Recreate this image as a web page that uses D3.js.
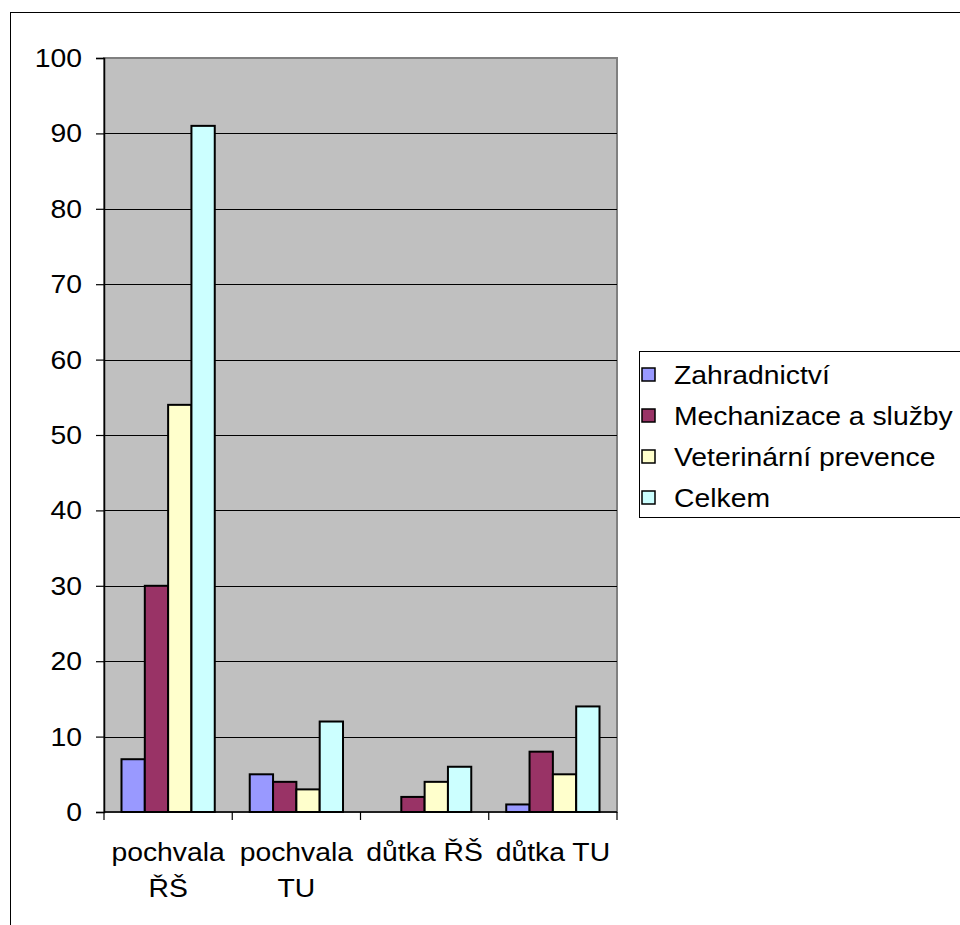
<!DOCTYPE html>
<html>
<head>
<meta charset="utf-8">
<script src="https://cdn.jsdelivr.net/npm/d3@7"></script>
<style>
	body { margin: 0; background: #fff; }
	svg { display: block; font-family: "Liberation Sans", Arial, sans-serif; }
</style>
</head>
<body>
<svg id="chart" width="960" height="925"></svg>
<script>
'use strict';

// categories and series
const categories = [['pochvala', 'ŘŠ'], ['pochvala', 'TU'], ['důtka ŘŠ'], ['důtka TU']];
const seriesNames = ['Zahradnictví', 'Mechanizace a služby', 'Veterinární prevence', 'Celkem'];
const seriesColors = ['#9999FF', '#993366', '#FFFFCC', '#CCFFFF'];
const zahradnictvi = [7, 5, 0, 1];
const mechanizace = [30, 4, 2, 8];
const veterinarni = [54, 3, 4, 5];
const celkem = [91, 12, 6, 14];
const yTicks = [0, 10, 20, 30, 40, 50, 60, 70, 80, 90, 100];

const values = [zahradnictvi, mechanizace, veterinarni, celkem];
const svg = d3.select('#chart');

// the source text is a little wider than Arial at the same height
const FONT = 26, STRETCH = 1.09;

// outer chart frame (runs off the right and bottom edge)
svg.append('rect')
	.attr('x', 10.5).attr('y', 12.5)
	.attr('width', 1000).attr('height', 1000)
	.attr('fill', '#fff').attr('stroke', '#000').attr('stroke-width', 1);

const plot = { left: 104, right: 617, top: 58, bottom: 812 };

const x = d3.scaleBand()
	.domain(d3.range(categories.length))
	.range([plot.left, plot.right]);

const y = d3.scaleLinear()
	.domain([0, 100])
	.range([plot.bottom, plot.top]);

// gray plot area
svg.append('rect')
	.attr('x', plot.left).attr('y', plot.top)
	.attr('width', plot.right - plot.left).attr('height', plot.bottom - plot.top)
	.attr('fill', '#C0C0C0').attr('stroke', '#808080').attr('stroke-width', 2);

// gridlines
svg.append('g')
	.selectAll('line')
	.data(yTicks.filter(t => t > 0 && t < 100))
	.join('line')
		.attr('x1', plot.left).attr('x2', plot.right)
		.attr('y1', d => Math.round(y(d)) + 0.5).attr('y2', d => Math.round(y(d)) + 0.5)
		.attr('stroke', '#000').attr('stroke-width', 1);

// bars: 4 bars per category, gap width 150%
const inner = d3.scaleBand()
	.domain(d3.range(seriesNames.length))
	.range([0, x.bandwidth()])
	.paddingInner(0)
	.paddingOuter(0.75);

const bars = [];
values.forEach((vals, s) => vals.forEach((v, c) => bars.push({ s, c, v })));

svg.append('g')
	.selectAll('rect')
	.data(bars.filter(d => d.v > 0))
	.join('rect')
		.attr('x', d => x(d.c) + inner(d.s))
		.attr('y', d => y(d.v))
		.attr('width', inner.bandwidth())
		.attr('height', d => y(0) - y(d.v))
		.attr('fill', d => seriesColors[d.s])
		.attr('stroke', '#000').attr('stroke-width', 2);

// y axis
const yAxis = svg.append('g')
	.attr('transform', `translate(${plot.left},0)`)
	.call(d3.axisLeft(y).tickValues(yTicks).tickSize(8).tickFormat(''));
yAxis.select('.domain').attr('stroke', '#000').attr('stroke-width', 1.5);
yAxis.selectAll('.tick line').attr('stroke', '#000').attr('stroke-width', 1.2);

svg.append('g')
	.selectAll('text')
	.data(yTicks)
	.join('text')
		.attr('transform', d => `translate(82,${y(d) + 9}) scale(${STRETCH},1)`)
		.attr('text-anchor', 'end')
		.attr('font-size', FONT)
		.text(d => d);

// x axis: tick marks at category boundaries
const bounds = d3.range(categories.length + 1).map(i => i === categories.length ? plot.right : x(i));
svg.append('line')
	.attr('x1', plot.left).attr('x2', plot.right)
	.attr('y1', plot.bottom).attr('y2', plot.bottom)
	.attr('stroke', '#000').attr('stroke-width', 1.5);
svg.append('g')
	.selectAll('line')
	.data(bounds)
	.join('line')
		.attr('x1', d => d).attr('x2', d => d)
		.attr('y1', plot.bottom).attr('y2', plot.bottom + 8)
		.attr('stroke', '#000').attr('stroke-width', 1.2);

svg.append('g')
	.selectAll('text')
	.data(categories)
	.join('text')
		.attr('transform', (d, i) => `translate(${x(i) + x.bandwidth() / 2},861) scale(${STRETCH},1)`)
		.attr('text-anchor', 'middle')
		.attr('font-size', FONT)
		.selectAll('tspan')
		.data(d => d)
		.join('tspan')
			.attr('x', 0)
			.attr('y', (d, i) => i * 36)
			.text(d => d);

// legend
const legend = svg.append('g');
legend.append('rect')
	.attr('x', 639.5).attr('y', 351.5)
	.attr('width', 400).attr('height', 166)
	.attr('fill', '#fff').attr('stroke', '#000').attr('stroke-width', 1);

const item = legend.selectAll('g.item')
	.data(seriesNames)
	.join('g')
		.attr('class', 'item')
		.attr('transform', (d, i) => `translate(642,${375 + i * 41})`);
item.append('rect')
	.attr('x', 0).attr('y', -7)
	.attr('width', 13).attr('height', 13)
	.attr('fill', (d, i) => seriesColors[i])
	.attr('stroke', '#000').attr('stroke-width', 1.5);
item.append('text')
	.attr('transform', `translate(32,8.5) scale(${STRETCH},1)`)
	.attr('font-size', FONT)
	.text(d => d);
</script>
</body>
</html>
